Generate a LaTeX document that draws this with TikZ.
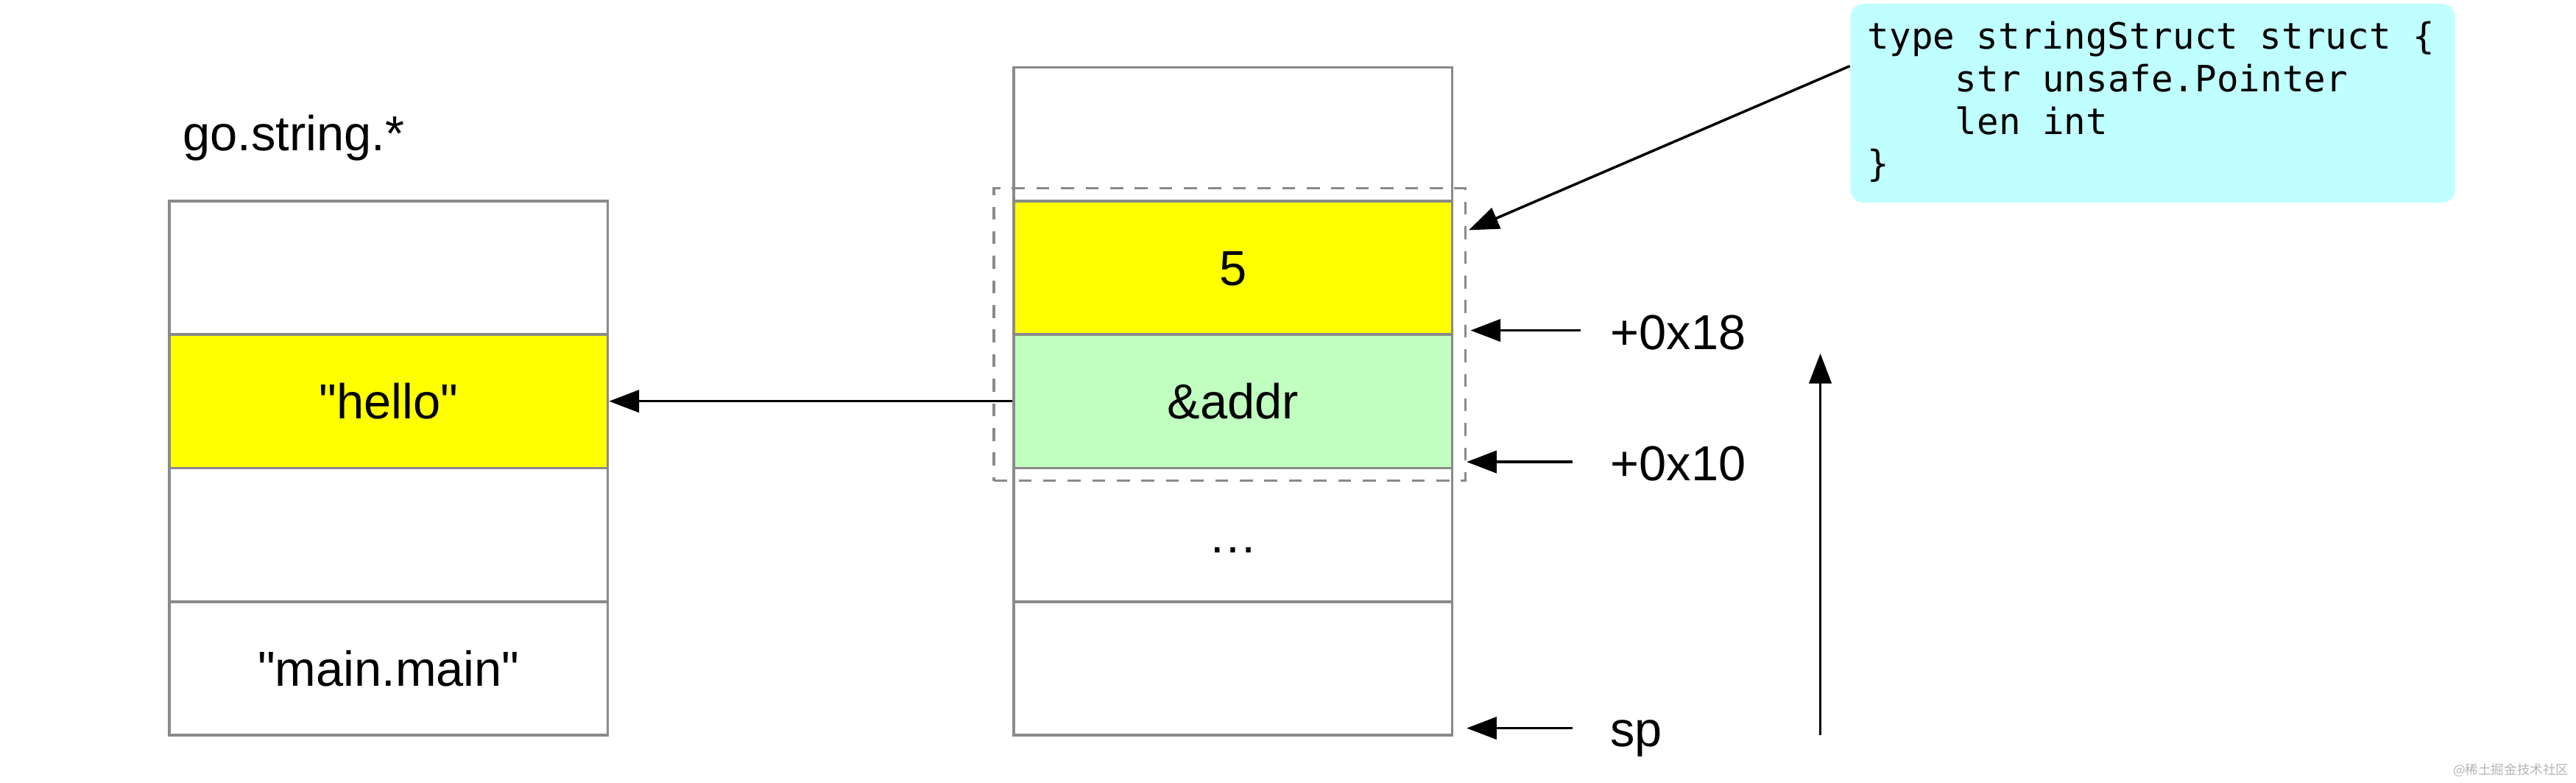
\documentclass[tikz,border=0pt]{standalone}
\usepackage{fontspec}
\setmainfont{Liberation Sans}[Ligatures=TeXOff]
\setmonofont{DejaVu Sans Mono}
\newfontfamily\cjkfont{Noto Sans CJK SC}
\usetikzlibrary{arrows.meta,calc}
\definecolor{boxgray}{HTML}{8A8A8A}
\definecolor{cellyellow}{HTML}{FFFF00}
\definecolor{cellgreen}{HTML}{C0FFC0}
\definecolor{codecyan}{HTML}{C0FFFF}
\definecolor{wmgray}{HTML}{B4B4B4}
\begin{document}
\begin{tikzpicture}[x=0.635pt,y=-0.635pt,
 cell/.style={draw=boxgray, line width=1pt, minimum width=169.5pt, minimum height=51.56pt, inner sep=0pt, text height=13.6pt, text depth=0pt, font=\fontsize{19}{23}\selectfont},
 lbl/.style={inner sep=0pt, font=\fontsize{19}{23}\selectfont},
 codeline/.style={inner sep=0pt, font=\ttfamily\fontsize{14}{16}\selectfont},
 arr/.style={line width=1pt, -{Triangle[length=11.6pt,width=8.6pt]}},
 grpbox/.style={draw=boxgray, line width=1pt, dash pattern=on 5pt off 4.5pt, minimum width=182.2pt, minimum height=113pt, inner sep=0pt},
 codebox/.style={fill=codecyan, rounded corners=5pt, minimum width=233.7pt, minimum height=76.8pt, inner sep=0pt}]
\useasboundingbox (0,0) rectangle (1568,476);
% stack
\node[cell] (s1) at (750.5,81.6) {};
\node[cell, fill=cellyellow] (s2) at (750.5,162.9) {5};
\node[cell, fill=cellgreen] (s3) at (750.5,244.1) {\&addr};
\node[cell] (s4) at (750.5,325.4) {\ldots};
\node[cell] (s5) at (750.5,406.6) {};
% go.string.*
\node[cell] (g1) at (236.5,162.9) {};
\node[cell, fill=cellyellow] (g2) at (236.5,244.1) {"hello"};
\node[cell] (g3) at (236.5,325.4) {};
\node[cell] (g4) at (236.5,406.6) {"main.main"};
\node[lbl, anchor=base west] (title) at (111,91.5) {go.string.*};
% dashed group
\node[grpbox] (grp) at (748.5,203.5) {};
% offsets
\node[lbl, anchor=base west] (o18) at (980,212.5) {+0x18};
\node[lbl, anchor=base west] (o10) at (980,292.5) {+0x10};
\node[lbl, anchor=base west] (osp) at (980,454) {sp};
\coordinate (t18) at (962,201);
\coordinate (t10) at (957,281);
\coordinate (tsp) at (957,443);
\draw[arr] (t18) -- ([xshift=1.5pt]t18 -| grp.east);
\draw[arr] (t10) -- (t10 -| grp.east);
\draw[arr] (tsp) -- (tsp -| grp.east);
\coordinate (ub) at (1108,447);
\coordinate (ut) at (1108,215);
\draw[arr] (ub) -- (ut);
% pointer
\draw[arr] (s3.west) -- (g2.east);
% code box
\node[codebox, anchor=north west] (code) at (1126,2) {};
\node[codeline, anchor=base west] (c1) at (1136.5,30) {type stringStruct struct \{};
\node[codeline, anchor=base west] (c2) at (1189.8,55.8) {str unsafe.Pointer};
\node[codeline, anchor=base west] (c3) at (1189.8,81.6) {len int};
\node[codeline, anchor=base west] (c4) at (1136.5,107.4) {\}};
\coordinate (grptip) at (894,140);
\draw[arr] ($(code.north west)!0.314!(code.south west)$) -- (grptip);
% watermark
\node[inner sep=0pt, anchor=base east, text=wmgray, font=\cjkfont\fontsize{5}{6}\selectfont] (wm) at (1564,471) {@稀土掘金技术社区};
\end{tikzpicture}
\end{document}
